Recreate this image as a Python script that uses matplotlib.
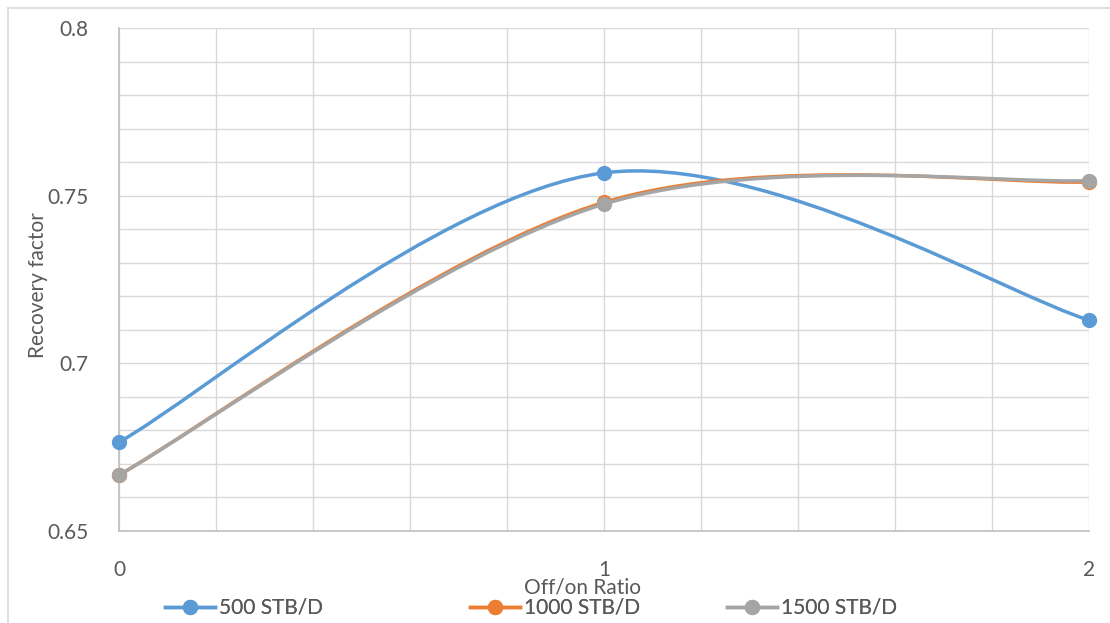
import numpy as np
import matplotlib
matplotlib.use("Agg")
import matplotlib.pyplot as plt
from matplotlib.path import Path
from matplotlib.patches import PathPatch
from matplotlib.lines import Line2D

# data
ratio = [0, 1, 2]
series_names = ["500 STB/D", "1000 STB/D", "1500 STB/D"]
rf_500 = [0.6765, 0.7568, 0.7129]
rf_1000 = [0.6667, 0.7480, 0.7541]
rf_1500 = [0.6667, 0.7475, 0.7545]
colors = ["#5B9BD5", "#ED7D31", "#A5A5A5"]

plt.rcParams["font.family"] = ["Lato", "DejaVu Sans"]
txt = "#595959"
fs = 15


def smooth_path(x, y):
    # Excel-style smoothed line: cubic Bezier with 1/6 tangents
    pts = np.column_stack([x, y]).astype(float)
    n = len(pts)
    verts = [pts[0]]
    codes = [Path.MOVETO]
    for i in range(n - 1):
        p0 = pts[max(i - 1, 0)]
        p1 = pts[i]
        p2 = pts[i + 1]
        p3 = pts[min(i + 2, n - 1)]
        verts += [p1 + (p2 - p0) / 6, p2 - (p3 - p1) / 6, p2]
        codes += [Path.CURVE4] * 3
    return Path(verts, codes)


fig = plt.figure(figsize=(11.1, 6.23), dpi=100)
ax = fig.add_axes([119 / 1110, 1 - 531 / 623, 970 / 1110, 503 / 623])

ax.set_xlim(0, 2)
ax.set_ylim(0.65, 0.8)
ax.set_xticks([0, 1, 2])
ax.set_xticks(np.arange(0, 2.01, 0.2), minor=True)
ax.set_yticks([0.65, 0.7, 0.75, 0.8])
ax.set_yticklabels(["0.65", "0.7", "0.75", "0.8"])
ax.set_yticks(np.arange(0.65, 0.8001, 0.01), minor=True)
ax.grid(True, which="both", color="#d9d9d9", lw=1.0)
ax.set_axisbelow(True)
ax.tick_params(which="both", length=0, colors=txt, labelsize=fs)
ax.tick_params(axis="x", pad=21)
ax.tick_params(axis="y", pad=22)
for s in ["top", "right"]:
    ax.spines[s].set_visible(False)
for s in ["left", "bottom"]:
    ax.spines[s].set_color("#bfbfbf")
    ax.spines[s].set_linewidth(1.2)

handles = []
for k, vals in enumerate([rf_500, rf_1000, rf_1500]):
    ax.add_patch(PathPatch(smooth_path(ratio, vals), fill=False,
                           edgecolor=colors[k], lw=2.5, zorder=3 + k,
                           capstyle="round"))
    ax.plot(ratio, vals, ls="none", marker="o", ms=10, color=colors[k],
            zorder=3 + k, clip_on=False)
    handles.append(Line2D([], [], color=colors[k], lw=2.5, marker="o", ms=10))

ax.set_ylabel("Recovery factor", color=txt, fontsize=fs, va="center")
ax.yaxis.set_label_coords((38 - 119) / 970, (531 - 285) / 503)
ax.set_xlabel("Off/on Ratio", color=txt, fontsize=fs, va="center")
ax.xaxis.set_label_coords((582 - 119) / 970, -(588 - 531) / 503)

leg_x = [165, 470, 727]
for k in range(3):
    lg = fig.legend([handles[k]], [series_names[k]], loc="center left",
                    bbox_to_anchor=(leg_x[k] / 1110, 1 - 608 / 623),
                    frameon=False, fontsize=fs, handlelength=2.4,
                    handletextpad=0.2, borderpad=0, borderaxespad=0)
    for t in lg.get_texts():
        t.set_color(txt)
    fig.add_artist(lg)

# chart area border (cropped on right/bottom)
fig.add_artist(Line2D([8 / 1110, 1], [1 - 8 / 623] * 2, color="#d9d9d9", lw=1.2))
fig.add_artist(Line2D([8 / 1110] * 2, [0, 1 - 8 / 623], color="#d9d9d9", lw=1.2))

fig.savefig("out.png", dpi=100)
